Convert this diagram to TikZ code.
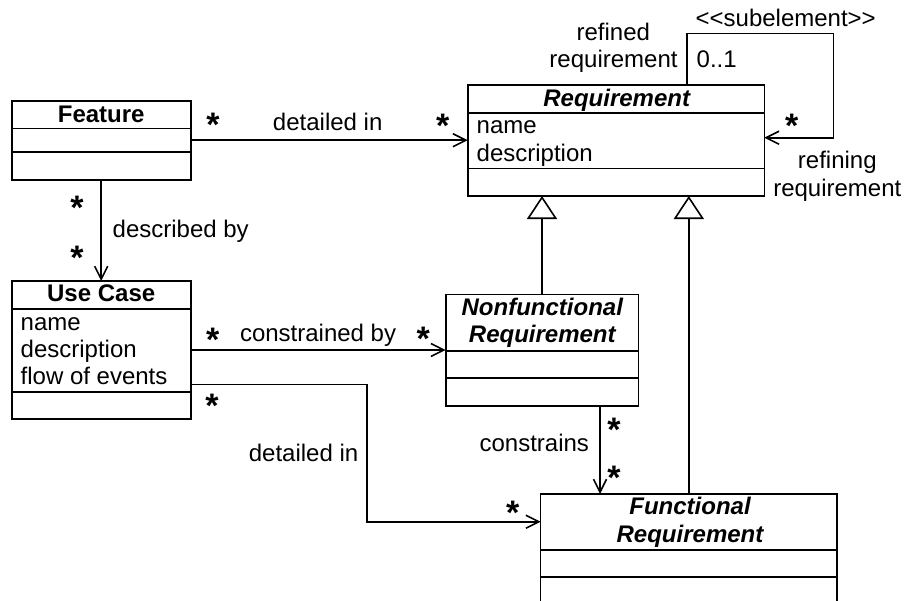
\documentclass[tikz,border=0pt]{standalone}
\usepackage{fontspec}
\setmainfont{Liberation Sans}
\usetikzlibrary{arrows.meta,calc}

\begin{document}
\begin{tikzpicture}[x=1pt,y=-1pt,
  every node/.style={inner sep=0pt, outer sep=0pt},
  txt/.style={font=\fontsize{24}{27}\selectfont, anchor=base},
  ttl/.style={font=\fontsize{24}{27}\selectfont\bfseries, anchor=base},
  ittl/.style={font=\fontsize{24}{27}\selectfont\bfseries\itshape, anchor=base},
  mult/.style={font=\fontsize{34}{34}\selectfont\bfseries, anchor=base},
  cls/.style={draw, line width=1.6pt, rectangle},
  ln/.style={line width=1.6pt},
  assoc/.style={line width=1.6pt, -{Straight Barb[length=13pt,width=13pt]}},
  gen/.style={line width=1.6pt, -{Triangle[open,length=23pt,width=30pt]}}
]
\useasboundingbox (0,0) rectangle (904,600);
\fill[white] (0,0) rectangle (904,600);
\clip (0,0) rectangle (904,600);

% ---------- classes ----------
\node[cls, minimum width=179pt, minimum height=79pt] (feature) at (101.2,140.2) {};
\draw[ln] (feature.west |- 0,128.3) -- (feature.east |- 0,128.3);
\draw[ln] (feature.west |- 0,152) -- (feature.east |- 0,152);
\node[ttl] (featureT) at (101.2,122.3) {Feature};

\node[cls, minimum width=179pt, minimum height=138pt] (usecase) at (101.2,350) {};
\draw[ln] (usecase.west |- 0,308.7) -- (usecase.east |- 0,308.7);
\draw[ln] (usecase.west |- 0,392) -- (usecase.east |- 0,392);
\node[ttl] (usecaseT) at (101.2,301.7) {Use Case};
\node[txt, anchor=base west] (ucA1) at (20.7,330) {name};
\node[txt, anchor=base west] (ucA2) at (20.7,357) {description};
\node[txt, anchor=base west] (ucA3) at (20.7,384) {flow of events};

\node[cls, minimum width=296.6pt, minimum height=111pt] (req) at (616,140.5) {};
\draw[ln] (req.west |- 0,112.7) -- (req.east |- 0,112.7);
\draw[ln] (req.west |- 0,168.3) -- (req.east |- 0,168.3);
\node[ittl] (reqT) at (616.7,106) {Requirement};
\node[txt, anchor=base west] (reqA1) at (476.7,133.3) {name};
\node[txt, anchor=base west] (reqA2) at (476.7,161) {description};

\node[cls, minimum width=192.6pt, minimum height=111.4pt] (nfr) at (542,350) {};
\draw[ln] (nfr.west |- 0,350.7) -- (nfr.east |- 0,350.7);
\draw[ln] (nfr.west |- 0,378) -- (nfr.east |- 0,378);
\node[ittl] (nfrT1) at (542.3,315.7) {Nonfunctional};
\node[ittl] (nfrT2) at (542.3,342.3) {Requirement};

\node[cls, minimum width=296.3pt, minimum height=111pt] (fr) at (688.8,549.5) {};
\draw[ln] (fr.west |- 0,550) -- (fr.east |- 0,550);
\draw[ln] (fr.west |- 0,577) -- (fr.east |- 0,577);
\node[ittl] (frT1) at (690,514.3) {Functional};
\node[ittl] (frT2) at (690,542.7) {Requirement};

% ---------- associations ----------
\draw[assoc] (feature.east) -- (feature.east -| req.west);
\node[mult] (m1) at (213,136.3) {*};
\node[txt] (l1) at (327.7,130) {detailed in};
\node[mult] (m2) at (442.7,137) {*};

\draw[assoc] (feature.south) -- (usecase.north);
\node[mult] (m3) at (77,219) {*};
\node[txt, anchor=base west] (l2) at (112.7,237.5) {described by};
\node[mult] (m4) at (77,269) {*};

\draw[assoc] (usecase.east) -- (usecase.east -| nfr.west);
\node[mult] (m5) at (212.7,351) {*};
\node[txt, anchor=base west] (l3) at (240,341.7) {constrained by};
\node[mult] (m6) at (423.3,350) {*};

\draw[assoc] (usecase.east |- 0,384.3) -- ++(176,0) |- (fr.west |- 0,521.7);
\node[mult] (m7) at (212,417.7) {*};
\node[txt, anchor=base east] (l4) at (358.3,461) {detailed in};
\node[mult] (m8) at (512.7,524) {*};

\coordinate (cs) at ($(nfr.south)+(58,0)$);
\draw[assoc] (cs) -- (cs |- fr.north);
\node[mult] (m9) at (614,441) {*};
\node[txt, anchor=base east] (l5) at (589,451.7) {constrains};
\node[mult] (m10) at (614,489) {*};

% ---------- generalizations ----------
\draw[gen] (nfr.north) -- (nfr.north |- req.south);
\draw[gen] (fr.north) -- (fr.north |- req.south);

% ---------- subelement self association ----------
\coordinate (lp) at (687,0 |- req.north);
\draw[assoc] (lp) -- ++(0,-51.7) -| (833.3,137.7) -- (req.east |- 0,137.7);
\node[txt] (st) at (785.7,26) {<\kern0pt<subelement>\kern0pt>};
\node[txt] (rd1) at (613.3,40.7) {refined};
\node[txt] (rd2) at (613.5,67.7) {requirement};
\node[txt, anchor=base west] (zo) at (696.7,67.7) {0..1};
\node[mult] (m11) at (791.7,137.7) {*};
\node[txt] (rf1) at (837.3,168.3) {refining};
\node[txt] (rf2) at (837.3,196.7) {requirement};
\end{tikzpicture}
\end{document}
